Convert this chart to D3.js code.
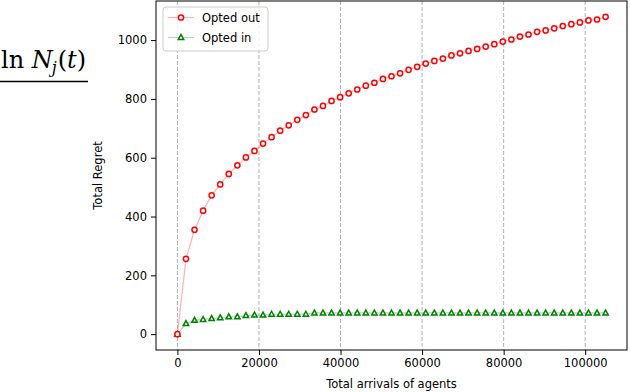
<!DOCTYPE html>
<html>
<head>
<meta charset="utf-8">
<script src="https://cdn.jsdelivr.net/npm/d3@7"></script>
<style>
  body { margin: 0; background: #fff; }
  svg text { font-family: "DejaVu Sans", sans-serif; }
</style>
</head>
<body>
<div id="chart"></div>
<script>
// data
var arrivals = [0, 2100, 4200, 6300, 8400, 10500, 12600, 14700, 16800, 18900,
  21000, 23100, 25200, 27300, 29400, 31500, 33600, 35700, 37800, 39900,
  42000, 44100, 46200, 48300, 50400, 52500, 54600, 56700, 58800, 60900,
  63000, 65100, 67200, 69300, 71400, 73500, 75600, 77700, 79800, 81900,
  84000, 86100, 88200, 90300, 92400, 94500, 96600, 98700, 100800, 102900, 105000];
var optedOut = [0, 256, 355, 420, 472, 509, 545, 574, 601, 623,
  648, 670, 692, 710, 729, 745, 764, 776, 793, 806,
  819, 832, 845, 855, 868, 877, 887, 899, 909, 920,
  929, 937, 948, 955, 963, 970, 978, 986, 995, 1002,
  1012, 1019, 1028, 1033, 1040, 1048, 1054, 1060, 1067, 1070, 1079];
var optedIn = [0, 36, 47, 50, 53, 56, 59, 59, 63, 65,
  65, 68, 68, 68, 68, 68, 72, 72, 72, 72,
  72, 72, 72, 72, 72, 72, 72, 72, 72, 72,
  72, 72, 72, 72, 72, 72, 72, 72, 72, 72,
  72, 72, 72, 72, 72, 72, 72, 72, 72, 72, 72];
var xTicks = [0, 20000, 40000, 60000, 80000, 100000];
var yTicks = [0, 200, 400, 600, 800, 1000];
var seriesNames = ["Opted out", "Opted in"];

var W = 630, H = 392;
var margin = {top: 1, right: 3, bottom: 42, left: 156},
    width = W - margin.left - margin.right,
    height = H - margin.top - margin.bottom;

var svg = d3.select("#chart").append("svg")
    .attr("width", W).attr("height", H);

// leftover formula fragment at the left edge
var serif = "'DejaVu Serif', 'Liberation Serif', serif";
var ft = svg.append("text").attr("x", 1).attr("y", 68)
  .attr("font-size", 24)
  .style("font-family", serif);
ft.append("tspan").text("ln ");
ft.append("tspan").attr("font-style", "italic").text("N");
ft.append("tspan").attr("font-style", "italic").attr("font-size", 16).attr("dy", 5).attr("dx", -1).text("j");
ft.append("tspan").attr("dy", -5).attr("dx", 1).text("(");
ft.append("tspan").attr("font-style", "italic").text("t");
ft.append("tspan").text(")");
svg.append("line").attr("x1", 0).attr("x2", 88).attr("y1", 81.5).attr("y2", 81.5)
  .attr("stroke", "#000").attr("stroke-width", 1.3);

var g = svg.append("g")
    .attr("transform", "translate(" + margin.left + "," + margin.top + ")");

var xPad = (d3.max(arrivals) - d3.min(arrivals)) * 0.05;
var x = d3.scaleLinear()
  .domain([d3.min(arrivals) - xPad, d3.max(arrivals) + xPad])
  .range([0, width]);

var yMin = d3.min(optedOut.concat(optedIn)), yMax = d3.max(optedOut.concat(optedIn));
var yPad = (yMax - yMin) * 0.05;
var y = d3.scaleLinear()
  .domain([yMin - yPad, yMax + yPad])
  .range([height, 0]);

// vertical dashed grid
g.selectAll("gridline")
  .data(xTicks)
  .enter()
  .append("line")
    .attr("x1", function(d) { return x(d); })
    .attr("x2", function(d) { return x(d); })
    .attr("y1", 0).attr("y2", height)
    .attr("stroke", "#b0b0b0")
    .attr("stroke-width", 1)
    .attr("stroke-dasharray", "4,2");

// axes
var xAxis = g.append("g")
  .attr("transform", "translate(0," + height + ")")
  .call(d3.axisBottom(x).tickValues(xTicks).tickFormat(d3.format("d")).tickSizeOuter(0).tickSize(5).tickPadding(4));
var yAxis = g.append("g")
  .call(d3.axisLeft(y).tickValues(yTicks).tickFormat(d3.format("d")).tickSizeOuter(0).tickSize(5).tickPadding(4));
[xAxis, yAxis].forEach(function(a) {
  a.select(".domain").remove();
  a.selectAll("text").attr("font-size", 11.5).attr("font-family", "DejaVu Sans").attr("fill", "#000");
  a.selectAll("line").attr("stroke", "#000");
});

// frame
g.append("rect")
  .attr("width", width).attr("height", height)
  .attr("fill", "none").attr("stroke", "#000").attr("stroke-width", 1);

// axis labels
svg.append("text")
  .attr("text-anchor", "middle")
  .attr("x", margin.left + width / 2)
  .attr("y", 388)
  .attr("font-size", 11.5)
  .text("Total arrivals of agents");
svg.append("text")
  .attr("text-anchor", "middle")
  .attr("transform", "translate(102," + (margin.top + height / 2) + ") rotate(-90)")
  .attr("font-size", 11.5)
  .text("Total Regret");

var line = d3.line()
  .x(function(d, i) { return x(arrivals[i]); })
  .y(function(d) { return y(d); });

var triangle = "M0,-2.9L2.7,2L-2.7,2Z";

// opted in (green)
g.append("path").datum(optedIn)
  .attr("d", line).attr("fill", "none")
  .attr("stroke", "rgba(0,128,0,0.3)").attr("stroke-width", 1.2);
g.selectAll("tri")
  .data(optedIn)
  .enter()
  .append("path")
    .attr("d", triangle)
    .attr("transform", function(d, i) { return "translate(" + x(arrivals[i]) + "," + y(d) + ")"; })
    .attr("fill", "#fff").attr("stroke", "#008000").attr("stroke-width", 1.5);

// opted out (red)
g.append("path").datum(optedOut)
  .attr("d", line).attr("fill", "none")
  .attr("stroke", "rgba(255,0,0,0.3)").attr("stroke-width", 1.2);
g.selectAll("dot")
  .data(optedOut)
  .enter()
  .append("circle")
    .attr("cx", function(d, i) { return x(arrivals[i]); })
    .attr("cy", function(d) { return y(d); })
    .attr("r", 2.6)
    .attr("fill", "#fff").attr("stroke", "#ff0000").attr("stroke-width", 1.5);

// legend
var lg = svg.append("g").attr("transform", "translate(163,7)");
lg.append("rect")
  .attr("width", 105).attr("height", 44).attr("rx", 3)
  .attr("fill", "rgba(255,255,255,0.8)").attr("stroke", "#cccccc").attr("stroke-width", 1);
var legendStyles = [
  {line: "rgba(255,0,0,0.3)", mark: "#ff0000", shape: "circle"},
  {line: "rgba(0,128,0,0.3)", mark: "#008000", shape: "tri"}
];
seriesNames.forEach(function(name, i) {
  var yy = 10.5 + i * 20;
  var s = legendStyles[i];
  lg.append("line").attr("x1", 5).attr("x2", 31).attr("y1", yy).attr("y2", yy)
    .attr("stroke", s.line).attr("stroke-width", 1.2);
  if (s.shape === "circle") {
    lg.append("circle").attr("cx", 18).attr("cy", yy).attr("r", 2.6)
      .attr("fill", "#fff").attr("stroke", s.mark).attr("stroke-width", 1.5);
  } else {
    lg.append("path").attr("d", triangle).attr("transform", "translate(18," + yy + ")")
      .attr("fill", "#fff").attr("stroke", s.mark).attr("stroke-width", 1.5);
  }
  lg.append("text").attr("x", 39).attr("y", yy + 4).attr("font-size", 11.5).text(name);
});
</script>
</body>
</html>
